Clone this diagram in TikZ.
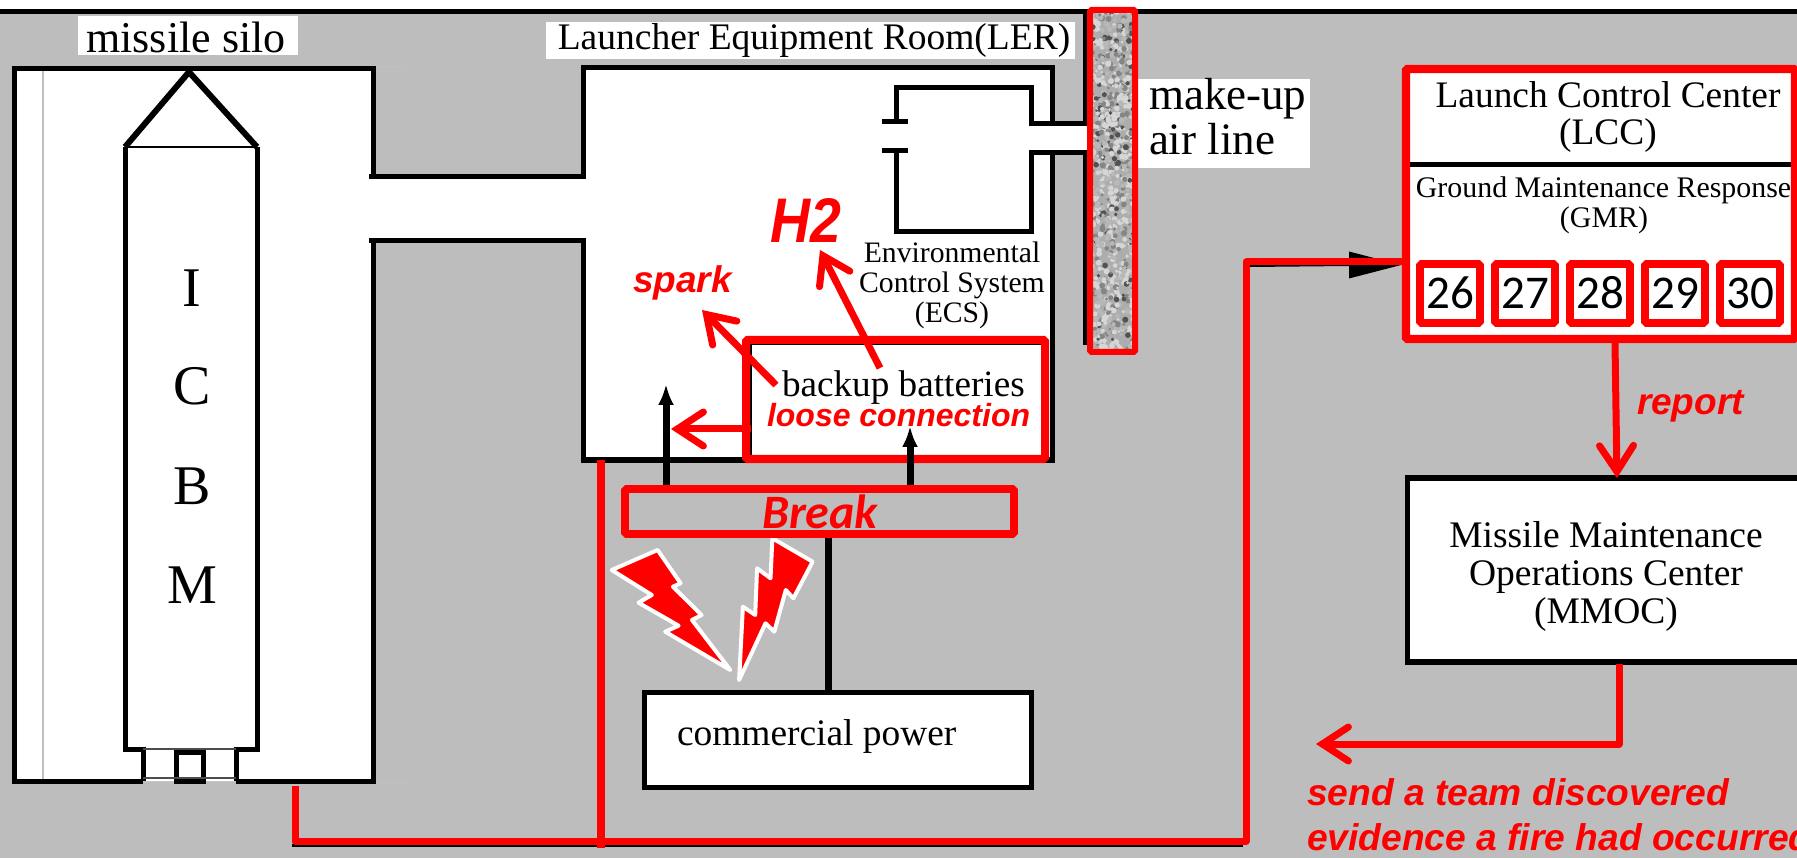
\documentclass[tikz,border=0pt]{standalone}
\usepackage{fontspec}
\setmainfont{Liberation Serif}
\newfontfamily\arialf{Liberation Sans}
\newfontfamily\carlf{Carlito}
\usetikzlibrary{arrows.meta}
\definecolor{bggray}{HTML}{BDBDBD}
\definecolor{pure}{HTML}{FF0000}
\newcommand{\fsz}[1]{\fontsize{#1}{#1}\selectfont}
\tikzset{
  wall/.style={draw=black,line width=5pt,line join=miter},
  thinwall/.style={draw=black,line width=1.5pt},
  faint/.style={draw=black!25,line width=1.2pt},
  redbox/.style={draw=pure,line width=7.6pt,rounded corners=1.5pt,inner sep=0pt,outer sep=0pt},
  blackbox/.style={draw=black,fill=white,line width=5pt,inner sep=0pt,outer sep=0pt},
  serif/.style={inner sep=0pt,outer sep=0pt,text=black,anchor=base},
  redtxt/.style={inner sep=0pt,outer sep=0pt,text=pure,anchor=base west,font=\arialf\bfseries\itshape},
  patch/.style={fill=white,inner sep=0pt,outer sep=0pt},
  redline/.style={draw=pure,line width=7pt,line join=round},
  redarrow/.style={draw=pure,line width=7pt,line join=round,-{Straight Barb[length=26pt,width=34pt,line cap=round]}},
  blackarrow/.style={draw=black,line width=7pt,-{Latex[length=21pt,width=16pt]}},
  boltshape/.style={fill=pure,draw=white,line width=4pt,line join=round},
  numbox/.style={redbox,fill=white,minimum width=60pt,minimum height=59pt,text=black},
}
\begin{document}
\begin{tikzpicture}[x=1pt,y=-1pt]
\useasboundingbox (0,0) rectangle (1797,858);
\clip (0,0) rectangle (1797,858);
\fill[white] (0,0) rectangle (1797,14);
\fill[bggray] (0,14) rectangle (1797,858);
\draw[black,line width=5pt] (0,12) -- (1797,12);

% white interiors
\fill[white] (14,69) -- (373,69) -- (373,177) -- (583,177) -- (583,68) -- (1052,68) -- (1052,460) -- (583,460) -- (583,241) -- (373,241) -- (373,781) -- (14,781) -- cycle;
\fill[white] (1052,124) rectangle (1088,153);

% faint traces
\draw[faint] (43,69) -- (43,781);
\draw[faint] (373,67) -- (405,67);
\draw[faint] (373,783) -- (405,783);

% silo and LER walls
\draw[wall] (143,781) -- (14,781) -- (14,69) -- (373,69) -- (373,177);
\draw[wall] (369,177) -- (583,177) -- (583,68) -- (1052,68) -- (1052,124);
\draw[wall] (369,241) -- (583,241) -- (583,460) -- (1052,460) -- (1052,153);
\draw[wall] (373,241) -- (373,781) -- (236,781);

% missile
\draw[line width=6pt,line join=miter] (125,147) -- (189,72) -- (257,147);
\draw[thinwall] (125,147) -- (257,147);
\draw[wall] (125,147) -- (125,749) -- (143,749) -- (143,781);
\draw[wall] (257,147) -- (257,749) -- (236,749) -- (236,781);
\draw[wall] (176,781) -- (176,752) -- (203,752) -- (203,781) -- cycle;
\draw[black!70,line width=1.2pt] (143,749) -- (236,749);
\draw[black!70,line width=1.2pt] (143,778) -- (236,778);

\node[serif,font=\fsz{56}] (letI) at (192,307) {I};
\node[serif,font=\fsz{56}] (letC) at (192,405) {C};
\node[serif,font=\fsz{56}] (letB) at (192,504) {B};
\node[serif,font=\fsz{56}] (letM) at (192,603) {M};

% labels on white patches
\fill[white] (78,16) rectangle (298,55);
\node[serif,font=\fsz{44}] (silolabel) at (186,53) {missile silo};
\fill[white] (546,22) rectangle (1075,59);
\node[serif,font=\fsz{37.5}] (lerlabel) at (814,50) {Launcher Equipment Room(LER)};
\fill[white] (1135,79) rectangle (1310,168);
\node[serif,anchor=base west,font=\fsz{45}] (makeup) at (1149,110) {make-up};
\node[serif,anchor=base west,font=\fsz{45}] (airline) at (1149,155) {air line};

% ECS
\draw[wall] (896,122) -- (896,88) -- (1031,88) -- (1031,124) -- (1088,124);
\draw[wall] (896,151) -- (896,232) -- (1031,232) -- (1031,153) -- (1088,153);
\draw[wall] (882,122) -- (908,122);
\draw[wall] (882,151) -- (908,151);
\draw[wall] (1085,12) -- (1085,124);
\draw[wall] (1085,153) -- (1085,345);
\node[serif,font=\fsz{29.7}] (ecs1) at (952,263) {Environmental};
\node[serif,font=\fsz{29.7}] (ecs2) at (952,293) {Control System};
\node[serif,font=\fsz{29.7}] (ecs3) at (952,323) {(ECS)};

% make-up air pillar
\begin{scope}
\clip (1090,10) rectangle (1135,352);
\fill[black!32] (1090,10) rectangle (1135,352);
\pgfmathsetseed{4711}
\foreach \i in {1,...,1100}{
  \pgfmathsetmacro{\px}{1112.5+23*rand}
  \pgfmathsetmacro{\py}{181+172*rand}
  \pgfmathsetmacro{\pr}{1.4+1.7*rnd}
  \pgfmathsetmacro{\pu}{rnd}
  \pgfmathsetmacro{\ps}{\pu<0.4?16:(\pu<0.7?28:(\pu<0.9?48:68))}
  \fill[black!\ps] (\px,\py) circle[radius=\pr];
}
\end{scope}
\node[draw=pure,line width=6pt,rounded corners=1.5pt,minimum width=45pt,minimum height=342pt,inner sep=0pt,outer sep=0pt] (pillar) at (1112.5,181) {};

% commercial power and feed lines
\node[blackbox,minimum width=387pt,minimum height=95pt] (power) at (838,740) {};
\node[serif,font=\fsz{37.4},anchor=base west] (powertxt) at (677,745) {commercial power};
\coordinate (breakA) at (666,489);
\coordinate (battA) at (666,384);
\coordinate (breakB) at (910,489);
\coordinate (battB) at (910,426);
\coordinate (breakC) at (828,534);
\coordinate (powerC) at (828,692);
\draw[draw=black,line width=7pt] (breakC) -- (powerC);

% lightning bolts
\path[boltshape] (772.4,538.3) -- (812.6,561.7) -- (793.4,598.3) -- (785.8,590) -- (774.3,631.7) -- (765.5,623.3) -- (739.1,680) -- (742.9,606.7) -- (755.2,615) -- (757.1,568.3) -- (770.5,578.3) -- cycle;
\path[boltshape] (611.7,570) -- (657.6,550) -- (680.6,583.3) -- (672.9,586.7) -- (701.6,615) -- (692,620) -- (730.3,670) -- (665.2,631.7) -- (678.6,625.7) -- (638.5,602.7) -- (651.8,595) -- cycle;

% battery box
\draw[black,line width=2pt] (751,460) -- (751,344) -- (1044,344);
\node[redbox,line width=8pt,minimum width=299pt,minimum height=119pt] (batt) at (895.5,399.5) {};
\node[serif,font=\fsz{37.2},anchor=base west] (batttxt) at (782,397) {backup batteries};

% black arrows from break
\draw[blackarrow] (breakA) -- (battA);
\draw[blackarrow] (breakB) -- (battB);

\node[redtxt,font=\arialf\bfseries\itshape\fsz{32}] (loose) at (767,427) {loose connection};
\node[redtxt,font=\arialf\bfseries\itshape\fsz{37}] (spark) at (633,293) {spark};
\node[redtxt,font=\arialf\bfseries\itshape\fsz{63}] (htwo) at (770,243) {\scalebox{0.88}[1]{H2}};

% break box
\node[redbox,minimum width=389pt,minimum height=45pt] (brk) at (819.5,511.5) {};
\node[inner sep=0pt,outer sep=0pt,anchor=base,text=pure,font=\carlf\bfseries\itshape\fsz{48}] (brktxt) at (820,528) {Break};

% red arrows at the batteries
\coordinate (sparkfrom) at (776,385);
\coordinate (sparkto) at (702,310);
\coordinate (h2from) at (880,368);
\coordinate (h2to) at (820,250);
\coordinate (loosefrom) at (751,429);
\coordinate (looseto) at (671,429);
\draw[redarrow] (sparkfrom) -- (sparkto);
\draw[redarrow] (h2from) -- (h2to);
\draw[redarrow] (loosefrom) -- (looseto);

% LCC
\node[redbox,line width=8.4pt,fill=white,minimum width=389pt,minimum height=270pt] (lcc) at (1600.5,204) {};
\coordinate (divL) at (1410,165);
\coordinate (divR) at (1791,165);
\draw[black,line width=5pt] (divL) -- (divR);
\node[serif,font=\fsz{37.4}] (lcc1) at (1608,108) {Launch Control Center};
\node[serif,font=\fsz{37.4}] (lcc2) at (1608,145) {(LCC)};
\node[serif,font=\fsz{29.9}] (gmr1) at (1603.5,198) {Ground Maintenance Response};
\node[serif,font=\fsz{29.9}] (gmr2) at (1604,228) {(GMR)};
\node[numbox] (n26) at (1450,293.5) {};
\node[numbox] (n27) at (1525,293.5) {};
\node[numbox] (n28) at (1600,293.5) {};
\node[numbox] (n29) at (1675,293.5) {};
\node[numbox] (n30) at (1750,293.5) {};
\node[serif,font=\carlf\fsz{47}] (t26) at (1450,309) {26};
\node[serif,font=\carlf\fsz{47}] (t27) at (1525,309) {27};
\node[serif,font=\carlf\fsz{47}] (t28) at (1600,309) {28};
\node[serif,font=\carlf\fsz{47}] (t29) at (1675,309) {29};
\node[serif,font=\carlf\fsz{47}] (t30) at (1750,309) {30};

% MMOC
\node[blackbox,line width=5.5pt,minimum width=400pt,minimum height=184pt] (mmoc) at (1607.5,570) {};
\node[serif,font=\fsz{37.5}] (mm1) at (1606,547) {Missile Maintenance};
\node[serif,font=\fsz{37.5}] (mm2) at (1606,585) {Operations Center};
\node[serif,font=\fsz{37.5}] (mm3) at (1606,623) {(MMOC)};

% report
\coordinate (repfrom) at (1615,343);
\coordinate (repto) at (1617,478);
\draw[redarrow] (repfrom) -- (repto);
\node[redtxt,font=\arialf\bfseries\itshape\fsz{37}] (report) at (1637,415) {report};

% send a team
\coordinate (mmfrom) at (1619,664);
\coordinate (mmelbow) at (1619,744);
\coordinate (mmto) at (1316,744);
\draw[redarrow] (mmfrom) -- (mmelbow) -- (mmto);
\node[redtxt,font=\arialf\bfseries\itshape\fsz{37.2}] (send1) at (1307,805) {send a team discovered};
\node[redtxt,font=\arialf\bfseries\itshape\fsz{37.2}] (send2) at (1307,850) {evidence a fire had occurred};

% alarm bus
\coordinate (busA) at (295,786);
\coordinate (busB) at (295,841);
\coordinate (busC) at (1246,841);
\coordinate (busD) at (1246,262);
\coordinate (lccin) at (1402,262);
\coordinate (arrbase) at (1349,265);
\coordinate (arrtip) at (1401,265);
\draw[black,line width=3pt] (292,845) -- (1243,845);
\draw[black,line width=2pt] (1250,266) -- (arrbase);
\fill[black] (1349,251.5) -- (arrtip) -- (1349,278.5) -- cycle;
\draw[redline] (busA) -- (busB) -- (busC) -- (busD) -- (lccin);
\draw[redline,line width=7.6pt] (601,460) -- (601,848);
\end{tikzpicture}
\end{document}
